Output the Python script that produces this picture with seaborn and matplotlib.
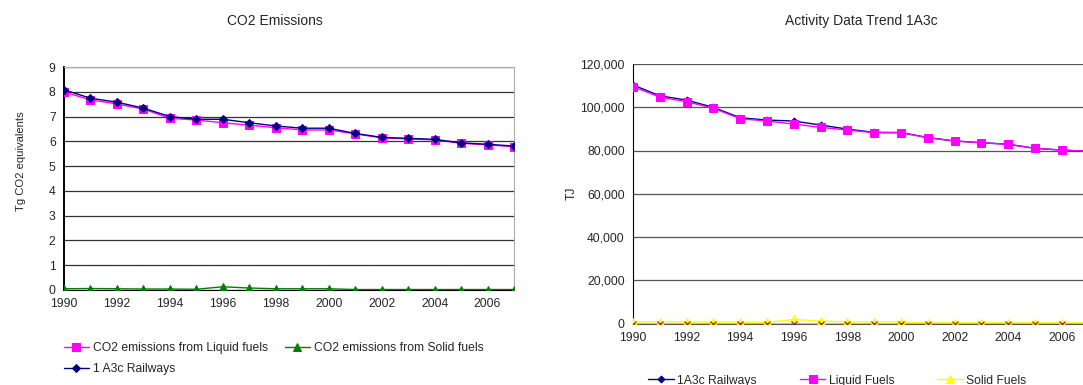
import numpy as np
import pandas as pd
import seaborn as sns
import matplotlib.pyplot as plt
from matplotlib.ticker import FuncFormatter

years = list(range(1990, 2008))

# CO2 emissions, Tg CO2 eq
co2_railways = [8.08, 7.74, 7.58, 7.34, 7.00, 6.89, 6.89, 6.75, 6.62, 6.53,
                6.53, 6.32, 6.16, 6.12, 6.08, 5.94, 5.88, 5.81]
co2_liquid = [7.99, 7.67, 7.51, 7.30, 6.93, 6.86, 6.75, 6.65, 6.55, 6.46,
              6.46, 6.30, 6.14, 6.10, 6.06, 5.92, 5.86, 5.78]
co2_solid = [0.05, 0.06, 0.05, 0.04, 0.04, 0.03, 0.13, 0.08, 0.05, 0.05,
             0.05, 0.02, 0.02, 0.02, 0.02, 0.02, 0.02, 0.02]

# activity data, TJ
act_railways = [110300, 105300, 103300, 99960, 95150, 94080, 93620, 91770, 89900, 88400,
                88300, 86000, 84400, 83600, 82900, 81000, 80200, 79600]
act_liquid = [109500, 104700, 102550, 99500, 94690, 93620, 92230, 90700, 89460, 88210,
              88210, 85900, 84370, 83580, 82840, 81000, 80200, 79600]
act_solid = [700, 800, 700, 600, 600, 500, 1900, 1100, 700, 700,
             700, 300, 300, 300, 300, 300, 300, 300]
act_other = [0] * 18

sns.set_style('white')
plt.rcParams['font.family'] = ['Liberation Sans', 'DejaVu Sans']
plt.rcParams['font.size'] = 8.7

fs = 8.7
fig = plt.figure(figsize=(10.83, 3.85), dpi=100)
W, H = 1083, 385
ax1 = fig.add_axes([64 / W, 1 - 290 / H, 450 / W, 223 / H])
ax2 = fig.add_axes([633 / W, 1 - 323.5 / H, 450 / W, 259.5 / H])

# left chart
sns.lineplot(x=years, y=co2_solid, ax=ax1, color='#008000', marker='^', markersize=6,
             markeredgecolor='#008000', lw=1, label='CO2 emissions from Solid fuels', zorder=3)
sns.lineplot(x=years, y=co2_liquid, ax=ax1, color='#ff00ff', marker='s', markersize=6,
             markeredgecolor='#ff00ff', lw=1, label='CO2 emissions from Liquid fuels', zorder=4)
sns.lineplot(x=years, y=co2_railways, ax=ax1, color='#000080', marker='D', markersize=4.5,
             markeredgecolor='#000080', lw=1, label='1 A3c Railways', zorder=5)
ax1.set_xlim(1990, 2007)
ax1.set_ylim(0, 9)
ax1.set_yticks(range(0, 10))
ax1.set_xticks(range(1990, 2007, 2))
ax1.grid(axis='y', color='#333333', lw=0.9)
ax1.set_axisbelow(True)
ax1.set_ylabel('Tg CO2 equivalents', fontsize=8.1)
ax1.yaxis.set_label_coords(-38 / 450, 0.578)
ax1.tick_params(length=0, labelsize=fs, pad=6)
for s in ['top', 'right']:
    ax1.spines[s].set_color('#aaaaaa')
ax1.spines['left'].set_color('black')
ax1.spines['left'].set_linewidth(1.4)
ax1.spines['bottom'].set_color('black')
h, l = ax1.get_legend_handles_labels()
order = [1, 2, 0]
ax1.legend([h[i] for i in order], [l[i] for i in order], ncol=2, frameon=False,
           loc='upper left', bbox_to_anchor=(-0.025, -0.185), fontsize=fs,
           handlelength=2.1, handletextpad=0.3, columnspacing=1.4, labelspacing=0.75)
fig.text(275 / W, 1 - 21 / H, 'CO2 Emissions', ha='center', va='center', fontsize=10)

# right chart
sns.lineplot(x=years, y=act_solid, ax=ax2, color='#ffff00', marker='^', markersize=6,
             markeredgecolor='#ffff00', lw=1, label='Solid Fuels', zorder=3)
sns.lineplot(x=years, y=act_other, ax=ax2, color='#800080', marker='x', markersize=5,
             markeredgecolor='#800080', lw=1, label='_nolegend_', zorder=4)
sns.lineplot(x=years, y=act_railways, ax=ax2, color='#000080', marker='D', markersize=3.5,
             markeredgecolor='#000080', lw=1, label='1A3c Railways', zorder=4)
sns.lineplot(x=years, y=act_liquid, ax=ax2, color='#ff00ff', marker='s', markersize=6,
             markeredgecolor='#ff00ff', lw=1, label='Liquid Fuels', zorder=5)
ax2.set_xlim(1990, 1990 + 450 / 26.8)
ax2.set_ylim(0, 120000)
ax2.set_yticks(range(0, 120001, 20000))
ax2.yaxis.set_major_formatter(FuncFormatter(lambda v, p: f'{int(v):,}'))
ax2.set_xticks(range(1990, 2007, 2))
ax2.grid(axis='y', color='#555555', lw=0.9)
ax2.set_axisbelow(True)
ax2.set_ylabel('TJ', fontsize=fs, labelpad=2)
ax2.tick_params(length=0, labelsize=fs, pad=6)
for s in ['top', 'right']:
    ax2.spines[s].set_visible(False)
ax2.spines['left'].set_color('black')
ax2.spines['bottom'].set_color('#555555')
h, l = ax2.get_legend_handles_labels()
order = [1, 2, 0]
ax2.legend([h[i] for i in order], [l[i] for i in order], ncol=3, frameon=False,
           loc='upper left', bbox_to_anchor=(0.01, -0.155), fontsize=fs,
           handlelength=2.1, handletextpad=0.3, columnspacing=3.55)
fig.text(861 / W, 1 - 21 / H, 'Activity Data Trend 1A3c', ha='center', va='center', fontsize=10)

fig.savefig('out.png', dpi=100)
